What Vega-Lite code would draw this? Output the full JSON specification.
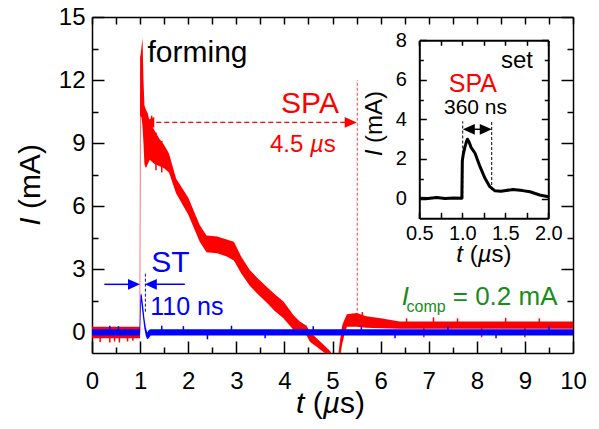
{
  "$schema": "https://vega.github.io/schema/vega-lite/v6.json",
  "width": 481,
  "height": 336,
  "autosize": "none",
  "padding": {"left": 92, "top": 17, "right": 26, "bottom": 76},
  "config": {
    "view": {"stroke": null},
    "font": "Liberation Sans",
    "axis": {
      "grid": false,
      "title": null,
      "labelFont": "Liberation Sans",
      "labelColor": "#000000",
      "domainColor": "#000000",
      "tickColor": "#000000",
      "labelOverlap": false,
      "labelFlush": false,
      "labelBound": false,
      "zindex": 1
    }
  },
  "datasets": {
    "forming": [
      {"t": 0.0, "lo": -0.3, "hi": 0.25},
      {"t": 0.99, "lo": -0.3, "hi": 0.25},
      {"t": 1.0, "lo": -0.3, "hi": 13.1},
      {"t": 1.01, "lo": 10.3, "hi": 13.2},
      {"t": 1.03, "lo": 10.2, "hi": 13.6},
      {"t": 1.05, "lo": 9.8, "hi": 14.0},
      {"t": 1.07, "lo": 9.0, "hi": 12.0},
      {"t": 1.09, "lo": 8.0, "hi": 10.8},
      {"t": 1.12, "lo": 7.8, "hi": 10.6},
      {"t": 1.16, "lo": 8.0, "hi": 10.4},
      {"t": 1.2, "lo": 8.2, "hi": 10.0},
      {"t": 1.3, "lo": 8.0, "hi": 9.6},
      {"t": 1.4, "lo": 7.9, "hi": 9.2},
      {"t": 1.5, "lo": 7.8, "hi": 8.9},
      {"t": 1.6, "lo": 7.6, "hi": 8.5},
      {"t": 1.75, "lo": 6.6, "hi": 7.3},
      {"t": 2.0, "lo": 5.6, "hi": 6.4},
      {"t": 2.24, "lo": 4.3, "hi": 5.1},
      {"t": 2.38, "lo": 3.8, "hi": 4.6},
      {"t": 2.6, "lo": 3.75, "hi": 4.55},
      {"t": 2.8, "lo": 3.6, "hi": 4.4},
      {"t": 2.95, "lo": 3.4, "hi": 4.3},
      {"t": 3.1, "lo": 2.8, "hi": 3.6},
      {"t": 3.28, "lo": 2.2, "hi": 2.95},
      {"t": 3.45, "lo": 1.8, "hi": 2.55},
      {"t": 3.63, "lo": 1.4, "hi": 2.15},
      {"t": 3.8, "lo": 1.0, "hi": 1.8},
      {"t": 3.98, "lo": 0.65, "hi": 1.45},
      {"t": 4.19, "lo": 0.1, "hi": 0.8},
      {"t": 4.32, "lo": -0.1, "hi": 0.5},
      {"t": 4.46, "lo": -0.15, "hi": 0.3},
      {"t": 4.53, "lo": -0.46, "hi": 0.0},
      {"t": 4.67, "lo": -0.7, "hi": -0.3},
      {"t": 4.81, "lo": -0.95, "hi": -0.6},
      {"t": 4.95, "lo": -1.2, "hi": -0.9},
      {"t": 5.0, "lo": -1.4, "hi": -1.1},
      {"t": 5.12, "lo": -1.4, "hi": -1.1},
      {"t": 5.15, "lo": -1.3, "hi": -0.5},
      {"t": 5.2, "lo": -0.6, "hi": 0.3},
      {"t": 5.25, "lo": -0.1, "hi": 0.6},
      {"t": 5.3, "lo": 0.25, "hi": 0.85},
      {"t": 5.5, "lo": 0.25, "hi": 0.9},
      {"t": 5.7, "lo": 0.2, "hi": 0.75},
      {"t": 6.0, "lo": 0.18, "hi": 0.65},
      {"t": 6.4, "lo": 0.15, "hi": 0.5},
      {"t": 10.0, "lo": 0.15, "hi": 0.5}
    ],
    "formingSpikes": [
      {"t": 0.17, "lo": -0.48, "hi": -0.2},
      {"t": 0.37, "lo": -0.5, "hi": -0.2},
      {"t": 0.47, "lo": -0.45, "hi": -0.2},
      {"t": 0.57, "lo": -0.5, "hi": -0.2},
      {"t": 0.74, "lo": -0.45, "hi": -0.2},
      {"t": 0.85, "lo": -0.42, "hi": -0.2},
      {"t": 1.24, "lo": 9.5, "hi": 10.3},
      {"t": 1.33, "lo": 7.7, "hi": 9.5},
      {"t": 1.45, "lo": 7.6, "hi": 9.1},
      {"t": 5.62, "lo": 0.4, "hi": 0.95},
      {"t": 6.54, "lo": 0.3, "hi": 0.65},
      {"t": 6.9, "lo": -0.25, "hi": 0.2},
      {"t": 7.1, "lo": 0.3, "hi": 0.7},
      {"t": 7.6, "lo": 0.3, "hi": 0.65},
      {"t": 8.1, "lo": -0.25, "hi": 0.2},
      {"t": 8.6, "lo": 0.3, "hi": 0.68},
      {"t": 9.0, "lo": -0.25, "hi": 0.2},
      {"t": 9.3, "lo": 0.3, "hi": 0.65}
    ],
    "st": [
      {"t": 0.0, "lo": -0.17, "hi": 0.13},
      {"t": 0.99, "lo": -0.17, "hi": 0.13},
      {"t": 1.0, "lo": -0.1, "hi": 1.2},
      {"t": 1.01, "lo": 0.8, "hi": 1.75},
      {"t": 1.02, "lo": 1.45, "hi": 1.85},
      {"t": 1.035, "lo": 1.2, "hi": 1.75},
      {"t": 1.06, "lo": 0.7, "hi": 1.3},
      {"t": 1.09, "lo": 0.15, "hi": 0.65},
      {"t": 1.12, "lo": -0.2, "hi": 0.2},
      {"t": 1.15, "lo": -0.35, "hi": -0.02},
      {"t": 1.18, "lo": -0.3, "hi": 0.1},
      {"t": 1.22, "lo": -0.17, "hi": 0.13},
      {"t": 10.0, "lo": -0.17, "hi": 0.13}
    ],
    "stSpikes": [
      {"t": 0.37, "lo": 0.0, "hi": 0.3},
      {"t": 0.55, "lo": 0.0, "hi": 0.28},
      {"t": 1.45, "lo": 0.0, "hi": 0.3},
      {"t": 1.9, "lo": 0.0, "hi": 0.28},
      {"t": 2.4, "lo": -0.35, "hi": 0.0},
      {"t": 2.9, "lo": 0.0, "hi": 0.3},
      {"t": 3.6, "lo": -0.3, "hi": 0.0},
      {"t": 4.6, "lo": 0.0, "hi": 0.28},
      {"t": 5.6, "lo": 0.0, "hi": 0.3},
      {"t": 6.3, "lo": -0.3, "hi": 0.0},
      {"t": 7.4, "lo": 0.0, "hi": 0.28},
      {"t": 8.4, "lo": -0.3, "hi": 0.0},
      {"t": 9.5, "lo": 0.0, "hi": 0.3}
    ],
    "set": [
      {"t": 0.5, "i": 0.02},
      {"t": 0.6, "i": 0.0},
      {"t": 0.7, "i": 0.05},
      {"t": 0.8, "i": 0.0},
      {"t": 0.9, "i": 0.03},
      {"t": 0.995, "i": 0.02},
      {"t": 1.0, "i": 1.9},
      {"t": 1.01, "i": 2.2},
      {"t": 1.03, "i": 2.6},
      {"t": 1.05, "i": 2.9},
      {"t": 1.06, "i": 3.0},
      {"t": 1.08, "i": 2.85},
      {"t": 1.1, "i": 2.6},
      {"t": 1.148, "i": 2.29},
      {"t": 1.206, "i": 1.61},
      {"t": 1.264, "i": 1.02},
      {"t": 1.32, "i": 0.6},
      {"t": 1.38, "i": 0.39},
      {"t": 1.45, "i": 0.37},
      {"t": 1.59, "i": 0.46},
      {"t": 1.7, "i": 0.4},
      {"t": 1.787, "i": 0.34},
      {"t": 1.9, "i": 0.18},
      {"t": 2.0, "i": 0.09}
    ],
    "notes": [
      {"grp": "forming", "t": 1.154, "v": 12.84, "txt": "forming"},
      {"grp": "t-axis-it", "t": 4.241, "v": -3.86, "txt": "t"},
      {"grp": "t-axis", "t": 4.588, "v": -3.86, "txt": "("},
      {"grp": "t-axis-it", "t": 4.796, "v": -3.86, "txt": "µ"},
      {"grp": "t-axis", "t": 5.156, "v": -3.86, "txt": "s)"},
      {"grp": "i-axis-it", "t": -1.081, "v": 5.057, "txt": "I"},
      {"grp": "i-axis", "t": -1.081, "v": 5.852, "txt": "(mA)"},
      {"grp": "spa", "t": 4.532, "v": 10.44, "txt": "SPA"},
      {"grp": "spa-width", "t": 3.7, "v": 8.59, "txt": "4.5"},
      {"grp": "spa-width-mu", "t": 4.532, "v": 8.59, "txt": "µ"},
      {"grp": "spa-width", "t": 4.819, "v": 8.59, "txt": "s"},
      {"grp": "st", "t": 1.23, "v": 2.84, "txt": "ST"},
      {"grp": "st-width", "t": 1.21, "v": 0.81, "txt": "110 ns"},
      {"grp": "comp-I", "t": 6.44, "v": 1.286, "txt": "I"},
      {"grp": "comp-sub", "t": 6.54, "v": 0.95, "txt": "comp"},
      {"grp": "comp-val", "t": 7.5, "v": 1.286, "txt": "= 0.2 mA"}
    ],
    "insetNotes": [
      {"grp": "set", "t": 1.45, "v": 6.58, "txt": "set"},
      {"grp": "inset-spa", "t": 0.843, "v": 5.4, "txt": "SPA"},
      {"grp": "inset-width", "t": 0.787, "v": 4.26, "txt": "360 ns"},
      {"grp": "inset-t-it", "t": 0.931, "v": -3.2, "txt": "t"},
      {"grp": "inset-t", "t": 1.086, "v": -3.2, "txt": "("},
      {"grp": "inset-t-it", "t": 1.179, "v": -3.2, "txt": "µ"},
      {"grp": "inset-t", "t": 1.34, "v": -3.2, "txt": "s)"},
      {"grp": "inset-i-it", "t": 0.063, "v": 2.14, "txt": "I"},
      {"grp": "inset-i", "t": 0.063, "v": 2.81, "txt": "(mA)"}
    ],
    "rules": [
      {"grp": "spa-mark", "t": 5.516, "t2": 5.516, "v": 0.3, "v2": 12.0},
      {"grp": "spa-arrow", "t": 1.17, "t2": 5.38, "v": 9.98, "v2": 9.98},
      {"grp": "st-arrow", "t": 0.256, "t2": 0.873, "v": 2.27, "v2": 2.27},
      {"grp": "st-arrow", "t": 1.223, "t2": 1.93, "v": 2.27, "v2": 2.27},
      {"grp": "st-mark", "t": 1.11, "t2": 1.11, "v": 0.97, "v2": 2.87}
    ],
    "insetRules": [
      {"grp": "set-mark", "t": 1.005, "t2": 1.005, "v": 0.0, "v2": 3.9},
      {"grp": "set-mark", "t": 1.342, "t2": 1.342, "v": 0.43, "v2": 3.97},
      {"grp": "set-arrow", "t": 1.076, "t2": 1.273, "v": 3.5, "v2": 3.5}
    ],
    "heads": [
      {"grp": "spa", "t": 1.17, "v": 9.98, "dir": "left"},
      {"grp": "spa", "t": 5.38, "v": 9.98, "dir": "right"},
      {"grp": "st", "t": 0.873, "v": 2.27, "dir": "right"},
      {"grp": "st", "t": 1.223, "v": 2.27, "dir": "left"}
    ],
    "insetHeads": [
      {"grp": "set", "t": 1.076, "v": 3.5, "dir": "left"},
      {"grp": "set", "t": 1.273, "v": 3.5, "dir": "right"}
    ]
  },
  "layer": [
    {
      "resolve": {"axis": {"x": "independent", "y": "independent"}},
      "layer": [
        {
          "data": {"name": "rules"},
          "transform": [{"filter": "datum.grp === 'spa-mark'"}],
          "mark": {"type": "rule", "color": "#ff6060", "strokeWidth": 1.2, "strokeDash": [3, 2]},
          "encoding": {
            "x": {"field": "t", "type": "quantitative", "scale": {"domain": [0, 10], "nice": false, "zero": false}, "axis": null},
            "x2": {"field": "t2"},
            "y": {"field": "v", "type": "quantitative", "scale": {"domain": [-1, 15], "nice": false, "zero": false}, "axis": null},
            "y2": {"field": "v2"}
          }
        },
        {
          "data": {"name": "forming"},
          "mark": {"type": "area", "color": "#ff0000", "clip": true, "opacity": 1},
          "encoding": {
            "x": {
              "field": "t", "type": "quantitative",
              "scale": {"domain": [0, 10], "nice": false, "zero": false},
              "axis": {
                "orient": "bottom",
                "values": [0, 0.5, 1, 1.5, 2, 2.5, 3, 3.5, 4, 4.5, 5, 5.5, 6, 6.5, 7, 7.5, 8, 8.5, 9, 9.5, 10],
                "labelExpr": "datum.value % 1 === 0 ? format(datum.value, 'd') : ''",
                "tickSize": {"condition": {"test": "datum.value % 1 === 0", "value": -12}, "value": -6},
                "labelPadding": 28,
                "labelFontSize": 24,
                "domainWidth": 1.5,
                "tickWidth": 1.5
              }
            },
            "y": {
              "field": "lo", "type": "quantitative",
              "scale": {"domain": [-1, 15], "nice": false, "zero": false},
              "axis": {
                "orient": "left",
                "values": [0, 1.5, 3, 4.5, 6, 7.5, 9, 10.5, 12, 13.5, 15],
                "labelExpr": "datum.value % 3 === 0 ? format(datum.value, 'd') : ''",
                "tickSize": {"condition": {"test": "datum.value % 3 === 0", "value": -12}, "value": -6},
                "labelPadding": 19,
                "labelFontSize": 24,
                "domainWidth": 1.5,
                "tickWidth": 1.5
              }
            },
            "y2": {"field": "hi"}
          }
        },
        {
          "data": {"name": "formingSpikes"},
          "mark": {"type": "rule", "color": "#ff0000", "strokeWidth": 1.5},
          "encoding": {
            "x": {"field": "t", "type": "quantitative", "scale": {"domain": [0, 10], "nice": false, "zero": false}, "axis": null},
            "y": {"field": "lo", "type": "quantitative", "scale": {"domain": [-1, 15], "nice": false, "zero": false}, "axis": null},
            "y2": {"field": "hi"}
          }
        },
        {
          "data": {"name": "st"},
          "mark": {"type": "area", "color": "#0000ff", "clip": true, "opacity": 1},
          "encoding": {
            "x": {
              "field": "t", "type": "quantitative",
              "scale": {"domain": [0, 10], "nice": false, "zero": false},
              "axis": {
                "orient": "top",
                "values": [0, 0.5, 1, 1.5, 2, 2.5, 3, 3.5, 4, 4.5, 5, 5.5, 6, 6.5, 7, 7.5, 8, 8.5, 9, 9.5, 10],
                "labels": false,
                "tickSize": -7,
                "domainWidth": 1.5,
                "tickWidth": 1.5
              }
            },
            "y": {
              "field": "lo", "type": "quantitative",
              "scale": {"domain": [-1, 15], "nice": false, "zero": false},
              "axis": {
                "orient": "right",
                "values": [0, 1.5, 3, 4.5, 6, 7.5, 9, 10.5, 12, 13.5, 15],
                "labels": false,
                "tickSize": {"condition": {"test": "datum.value % 3 === 0", "value": -12}, "value": -6},
                "domainWidth": 1.5,
                "tickWidth": 1.5
              }
            },
            "y2": {"field": "hi"}
          }
        },
        {
          "data": {"name": "stSpikes"},
          "mark": {"type": "rule", "color": "#0000ff", "strokeWidth": 1.5},
          "encoding": {
            "x": {"field": "t", "type": "quantitative", "scale": {"domain": [0, 10], "nice": false, "zero": false}, "axis": null},
            "y": {"field": "lo", "type": "quantitative", "scale": {"domain": [-1, 15], "nice": false, "zero": false}, "axis": null},
            "y2": {"field": "hi"}
          }
        },
        {
          "data": {"name": "rules"},
          "transform": [{"filter": "datum.grp === 'spa-arrow'"}],
          "mark": {"type": "rule", "color": "#ff0000", "strokeWidth": 1.2, "strokeDash": [5, 3]},
          "encoding": {
            "x": {"field": "t", "type": "quantitative", "scale": {"domain": [0, 10], "nice": false, "zero": false}, "axis": null},
            "x2": {"field": "t2"},
            "y": {"field": "v", "type": "quantitative", "scale": {"domain": [-1, 15], "nice": false, "zero": false}, "axis": null},
            "y2": {"field": "v2"}
          }
        },
        {
          "data": {"name": "rules"},
          "transform": [{"filter": "datum.grp === 'st-arrow'"}],
          "mark": {"type": "rule", "color": "#0000ff", "strokeWidth": 1.5},
          "encoding": {
            "x": {"field": "t", "type": "quantitative", "scale": {"domain": [0, 10], "nice": false, "zero": false}, "axis": null},
            "x2": {"field": "t2"},
            "y": {"field": "v", "type": "quantitative", "scale": {"domain": [-1, 15], "nice": false, "zero": false}, "axis": null},
            "y2": {"field": "v2"}
          }
        },
        {
          "data": {"name": "rules"},
          "transform": [{"filter": "datum.grp === 'st-mark'"}],
          "mark": {"type": "rule", "color": "#0000ff", "strokeWidth": 1, "strokeDash": [3, 2]},
          "encoding": {
            "x": {"field": "t", "type": "quantitative", "scale": {"domain": [0, 10], "nice": false, "zero": false}, "axis": null},
            "x2": {"field": "t2"},
            "y": {"field": "v", "type": "quantitative", "scale": {"domain": [-1, 15], "nice": false, "zero": false}, "axis": null},
            "y2": {"field": "v2"}
          }
        },
        {
          "data": {"name": "heads"},
          "mark": {"type": "point", "filled": true, "size": 144, "opacity": 1},
          "encoding": {
            "x": {"field": "t", "type": "quantitative", "scale": {"domain": [0, 10], "nice": false, "zero": false}, "axis": null},
            "y": {"field": "v", "type": "quantitative", "scale": {"domain": [-1, 15], "nice": false, "zero": false}, "axis": null},
            "shape": {"field": "dir", "type": "nominal", "legend": null,
              "scale": {"domain": ["left", "right"], "range": ["M1,-0.9L-1,0L1,0.9Z", "M-1,-0.9L1,0L-1,0.9Z"]}},
            "color": {"field": "grp", "type": "nominal", "legend": null,
              "scale": {"domain": ["spa", "st"], "range": ["#ff0000", "#0000ff"]}}
          }
        },
        {
          "data": {"name": "notes"},
          "transform": [{"filter": "datum.grp === 'forming' || datum.grp === 't-axis'"}],
          "mark": {"type": "text", "align": "left", "baseline": "alphabetic", "fontSize": 30, "color": "#000000"},
          "encoding": {
            "x": {"field": "t", "type": "quantitative", "scale": {"domain": [0, 10], "nice": false, "zero": false}, "axis": null},
            "y": {"field": "v", "type": "quantitative", "scale": {"domain": [-1, 15], "nice": false, "zero": false}, "axis": null},
            "text": {"field": "txt"}
          }
        },
        {
          "data": {"name": "notes"},
          "transform": [{"filter": "datum.grp === 't-axis-it'"}],
          "mark": {"type": "text", "align": "left", "baseline": "alphabetic", "fontSize": 30, "fontStyle": "italic", "color": "#000000"},
          "encoding": {
            "x": {"field": "t", "type": "quantitative", "scale": {"domain": [0, 10], "nice": false, "zero": false}, "axis": null},
            "y": {"field": "v", "type": "quantitative", "scale": {"domain": [-1, 15], "nice": false, "zero": false}, "axis": null},
            "text": {"field": "txt"}
          }
        },
        {
          "data": {"name": "notes"},
          "transform": [{"filter": "datum.grp === 'i-axis'"}],
          "mark": {"type": "text", "align": "left", "baseline": "alphabetic", "fontSize": 30, "angle": 270, "color": "#000000"},
          "encoding": {
            "x": {"field": "t", "type": "quantitative", "scale": {"domain": [0, 10], "nice": false, "zero": false}, "axis": null},
            "y": {"field": "v", "type": "quantitative", "scale": {"domain": [-1, 15], "nice": false, "zero": false}, "axis": null},
            "text": {"field": "txt"}
          }
        },
        {
          "data": {"name": "notes"},
          "transform": [{"filter": "datum.grp === 'i-axis-it'"}],
          "mark": {"type": "text", "align": "left", "baseline": "alphabetic", "fontSize": 30, "angle": 270, "fontStyle": "italic", "color": "#000000"},
          "encoding": {
            "x": {"field": "t", "type": "quantitative", "scale": {"domain": [0, 10], "nice": false, "zero": false}, "axis": null},
            "y": {"field": "v", "type": "quantitative", "scale": {"domain": [-1, 15], "nice": false, "zero": false}, "axis": null},
            "text": {"field": "txt"}
          }
        },
        {
          "data": {"name": "notes"},
          "transform": [{"filter": "datum.grp === 'spa'"}],
          "mark": {"type": "text", "align": "center", "baseline": "alphabetic", "fontSize": 30, "color": "#ff0000"},
          "encoding": {
            "x": {"field": "t", "type": "quantitative", "scale": {"domain": [0, 10], "nice": false, "zero": false}, "axis": null},
            "y": {"field": "v", "type": "quantitative", "scale": {"domain": [-1, 15], "nice": false, "zero": false}, "axis": null},
            "text": {"field": "txt"}
          }
        },
        {
          "data": {"name": "notes"},
          "transform": [{"filter": "datum.grp === 'spa-width'"}],
          "mark": {"type": "text", "align": "left", "baseline": "alphabetic", "fontSize": 24, "color": "#ff0000"},
          "encoding": {
            "x": {"field": "t", "type": "quantitative", "scale": {"domain": [0, 10], "nice": false, "zero": false}, "axis": null},
            "y": {"field": "v", "type": "quantitative", "scale": {"domain": [-1, 15], "nice": false, "zero": false}, "axis": null},
            "text": {"field": "txt"}
          }
        },
        {
          "data": {"name": "notes"},
          "transform": [{"filter": "datum.grp === 'spa-width-mu'"}],
          "mark": {"type": "text", "align": "left", "baseline": "alphabetic", "fontSize": 24, "fontStyle": "italic", "color": "#ff0000"},
          "encoding": {
            "x": {"field": "t", "type": "quantitative", "scale": {"domain": [0, 10], "nice": false, "zero": false}, "axis": null},
            "y": {"field": "v", "type": "quantitative", "scale": {"domain": [-1, 15], "nice": false, "zero": false}, "axis": null},
            "text": {"field": "txt"}
          }
        },
        {
          "data": {"name": "notes"},
          "transform": [{"filter": "datum.grp === 'st'"}],
          "mark": {"type": "text", "align": "left", "baseline": "alphabetic", "fontSize": 30, "color": "#0000ff"},
          "encoding": {
            "x": {"field": "t", "type": "quantitative", "scale": {"domain": [0, 10], "nice": false, "zero": false}, "axis": null},
            "y": {"field": "v", "type": "quantitative", "scale": {"domain": [-1, 15], "nice": false, "zero": false}, "axis": null},
            "text": {"field": "txt"}
          }
        },
        {
          "data": {"name": "notes"},
          "transform": [{"filter": "datum.grp === 'st-width'"}],
          "mark": {"type": "text", "align": "left", "baseline": "alphabetic", "fontSize": 25, "color": "#0000ff"},
          "encoding": {
            "x": {"field": "t", "type": "quantitative", "scale": {"domain": [0, 10], "nice": false, "zero": false}, "axis": null},
            "y": {"field": "v", "type": "quantitative", "scale": {"domain": [-1, 15], "nice": false, "zero": false}, "axis": null},
            "text": {"field": "txt"}
          }
        },
        {
          "data": {"name": "notes"},
          "transform": [{"filter": "datum.grp === 'comp-I'"}],
          "mark": {"type": "text", "align": "left", "baseline": "alphabetic", "fontSize": 26, "fontStyle": "italic", "color": "#1a8c1a"},
          "encoding": {
            "x": {"field": "t", "type": "quantitative", "scale": {"domain": [0, 10], "nice": false, "zero": false}, "axis": null},
            "y": {"field": "v", "type": "quantitative", "scale": {"domain": [-1, 15], "nice": false, "zero": false}, "axis": null},
            "text": {"field": "txt"}
          }
        },
        {
          "data": {"name": "notes"},
          "transform": [{"filter": "datum.grp === 'comp-sub'"}],
          "mark": {"type": "text", "align": "left", "baseline": "alphabetic", "fontSize": 16, "color": "#1a8c1a"},
          "encoding": {
            "x": {"field": "t", "type": "quantitative", "scale": {"domain": [0, 10], "nice": false, "zero": false}, "axis": null},
            "y": {"field": "v", "type": "quantitative", "scale": {"domain": [-1, 15], "nice": false, "zero": false}, "axis": null},
            "text": {"field": "txt"}
          }
        },
        {
          "data": {"name": "notes"},
          "transform": [{"filter": "datum.grp === 'comp-val'"}],
          "mark": {"type": "text", "align": "left", "baseline": "alphabetic", "fontSize": 26, "color": "#1a8c1a"},
          "encoding": {
            "x": {"field": "t", "type": "quantitative", "scale": {"domain": [0, 10], "nice": false, "zero": false}, "axis": null},
            "y": {"field": "v", "type": "quantitative", "scale": {"domain": [-1, 15], "nice": false, "zero": false}, "axis": null},
            "text": {"field": "txt"}
          }
        }
      ]
    },
    {
      "resolve": {"axis": {"x": "independent", "y": "independent"}},
      "layer": [
        {
          "data": {"name": "set"},
          "mark": {"type": "line", "color": "#000000", "strokeWidth": 3, "strokeJoin": "round"},
          "encoding": {
            "x": {
              "field": "t", "type": "quantitative",
              "scale": {"domain": [0.5, 2.0], "range": [327.3, 456.3], "nice": false, "zero": false},
              "axis": {
                "orient": "bottom",
                "offset": -134.7,
                "values": [0.5, 0.75, 1.0, 1.25, 1.5, 1.75, 2.0],
                "labelExpr": "datum.value % 0.5 === 0 ? format(datum.value, '.1f') : ''",
                "tickSize": -6,
                "labelPadding": 11,
                "labelFontSize": 20,
                "domainWidth": 2,
                "tickWidth": 1.5
              }
            },
            "y": {
              "field": "i", "type": "quantitative",
              "scale": {"domain": [-1, 8], "range": [201.3, 23.3], "nice": false, "zero": false},
              "axis": {
                "orient": "left",
                "offset": -327.3,
                "values": [0, 1, 2, 3, 4, 5, 6, 7, 8],
                "labelExpr": "datum.value % 2 === 0 ? datum.label : ''",
                "tickSize": {"condition": {"test": "datum.value % 2 === 0", "value": -7}, "value": -4},
                "labelPadding": 20,
                "labelFontSize": 20,
                "domainWidth": 2,
                "tickWidth": 1.5
              }
            }
          }
        },
        {
          "data": {"name": "insetRules"},
          "transform": [{"filter": "datum.grp === 'set-mark'"}],
          "mark": {"type": "rule", "color": "#000000", "strokeWidth": 1, "strokeDash": [3, 2]},
          "encoding": {
            "x": {
              "field": "t", "type": "quantitative",
              "scale": {"domain": [0.5, 2.0], "range": [327.3, 456.3], "nice": false, "zero": false},
              "axis": {
                "orient": "top",
                "offset": -23.3,
                "values": [0.5, 0.75, 1.0, 1.25, 1.5, 1.75, 2.0],
                "labels": false,
                "tickSize": -5,
                "domainWidth": 2,
                "tickWidth": 1.5
              }
            },
            "x2": {"field": "t2"},
            "y": {
              "field": "v", "type": "quantitative",
              "scale": {"domain": [-1, 8], "range": [201.3, 23.3], "nice": false, "zero": false},
              "axis": {
                "orient": "right",
                "offset": -24.7,
                "values": [0, 1, 2, 3, 4, 5, 6, 7, 8],
                "labels": false,
                "tickSize": {"condition": {"test": "datum.value % 2 === 0", "value": -7}, "value": -4},
                "domainWidth": 2,
                "tickWidth": 1.5
              }
            },
            "y2": {"field": "v2"}
          }
        },
        {
          "data": {"name": "insetRules"},
          "transform": [{"filter": "datum.grp === 'set-arrow'"}],
          "mark": {"type": "rule", "color": "#000000", "strokeWidth": 1.5},
          "encoding": {
            "x": {"field": "t", "type": "quantitative", "scale": {"domain": [0.5, 2.0], "range": [327.3, 456.3], "nice": false, "zero": false}, "axis": null},
            "x2": {"field": "t2"},
            "y": {"field": "v", "type": "quantitative", "scale": {"domain": [-1, 8], "range": [201.3, 23.3], "nice": false, "zero": false}, "axis": null},
            "y2": {"field": "v2"}
          }
        },
        {
          "data": {"name": "insetHeads"},
          "mark": {"type": "point", "filled": true, "size": 144, "opacity": 1, "color": "#000000"},
          "encoding": {
            "x": {"field": "t", "type": "quantitative", "scale": {"domain": [0.5, 2.0], "range": [327.3, 456.3], "nice": false, "zero": false}, "axis": null},
            "y": {"field": "v", "type": "quantitative", "scale": {"domain": [-1, 8], "range": [201.3, 23.3], "nice": false, "zero": false}, "axis": null},
            "shape": {"field": "dir", "type": "nominal", "legend": null,
              "scale": {"domain": ["left", "right"], "range": ["M1,-0.9L-1,0L1,0.9Z", "M-1,-0.9L1,0L-1,0.9Z"]}}
          }
        },
        {
          "data": {"name": "insetNotes"},
          "transform": [{"filter": "datum.grp === 'set' || datum.grp === 'inset-t'"}],
          "mark": {"type": "text", "align": "left", "baseline": "alphabetic", "fontSize": 24, "color": "#000000"},
          "encoding": {
            "x": {"field": "t", "type": "quantitative", "scale": {"domain": [0.5, 2.0], "range": [327.3, 456.3], "nice": false, "zero": false}, "axis": null},
            "y": {"field": "v", "type": "quantitative", "scale": {"domain": [-1, 8], "range": [201.3, 23.3], "nice": false, "zero": false}, "axis": null},
            "text": {"field": "txt"}
          }
        },
        {
          "data": {"name": "insetNotes"},
          "transform": [{"filter": "datum.grp === 'inset-t-it'"}],
          "mark": {"type": "text", "align": "left", "baseline": "alphabetic", "fontSize": 24, "fontStyle": "italic", "color": "#000000"},
          "encoding": {
            "x": {"field": "t", "type": "quantitative", "scale": {"domain": [0.5, 2.0], "range": [327.3, 456.3], "nice": false, "zero": false}, "axis": null},
            "y": {"field": "v", "type": "quantitative", "scale": {"domain": [-1, 8], "range": [201.3, 23.3], "nice": false, "zero": false}, "axis": null},
            "text": {"field": "txt"}
          }
        },
        {
          "data": {"name": "insetNotes"},
          "transform": [{"filter": "datum.grp === 'inset-i'"}],
          "mark": {"type": "text", "align": "left", "baseline": "alphabetic", "fontSize": 24, "angle": 270, "color": "#000000"},
          "encoding": {
            "x": {"field": "t", "type": "quantitative", "scale": {"domain": [0.5, 2.0], "range": [327.3, 456.3], "nice": false, "zero": false}, "axis": null},
            "y": {"field": "v", "type": "quantitative", "scale": {"domain": [-1, 8], "range": [201.3, 23.3], "nice": false, "zero": false}, "axis": null},
            "text": {"field": "txt"}
          }
        },
        {
          "data": {"name": "insetNotes"},
          "transform": [{"filter": "datum.grp === 'inset-i-it'"}],
          "mark": {"type": "text", "align": "left", "baseline": "alphabetic", "fontSize": 24, "angle": 270, "fontStyle": "italic", "color": "#000000"},
          "encoding": {
            "x": {"field": "t", "type": "quantitative", "scale": {"domain": [0.5, 2.0], "range": [327.3, 456.3], "nice": false, "zero": false}, "axis": null},
            "y": {"field": "v", "type": "quantitative", "scale": {"domain": [-1, 8], "range": [201.3, 23.3], "nice": false, "zero": false}, "axis": null},
            "text": {"field": "txt"}
          }
        },
        {
          "data": {"name": "insetNotes"},
          "transform": [{"filter": "datum.grp === 'inset-spa'"}],
          "mark": {"type": "text", "align": "left", "baseline": "alphabetic", "fontSize": 25, "color": "#ff0000"},
          "encoding": {
            "x": {"field": "t", "type": "quantitative", "scale": {"domain": [0.5, 2.0], "range": [327.3, 456.3], "nice": false, "zero": false}, "axis": null},
            "y": {"field": "v", "type": "quantitative", "scale": {"domain": [-1, 8], "range": [201.3, 23.3], "nice": false, "zero": false}, "axis": null},
            "text": {"field": "txt"}
          }
        },
        {
          "data": {"name": "insetNotes"},
          "transform": [{"filter": "datum.grp === 'inset-width'"}],
          "mark": {"type": "text", "align": "left", "baseline": "alphabetic", "fontSize": 21, "color": "#000000"},
          "encoding": {
            "x": {"field": "t", "type": "quantitative", "scale": {"domain": [0.5, 2.0], "range": [327.3, 456.3], "nice": false, "zero": false}, "axis": null},
            "y": {"field": "v", "type": "quantitative", "scale": {"domain": [-1, 8], "range": [201.3, 23.3], "nice": false, "zero": false}, "axis": null},
            "text": {"field": "txt"}
          }
        }
      ]
    }
  ],
  "resolve": {"scale": {"x": "independent", "y": "independent"}, "axis": {"x": "independent", "y": "independent"}}
}
